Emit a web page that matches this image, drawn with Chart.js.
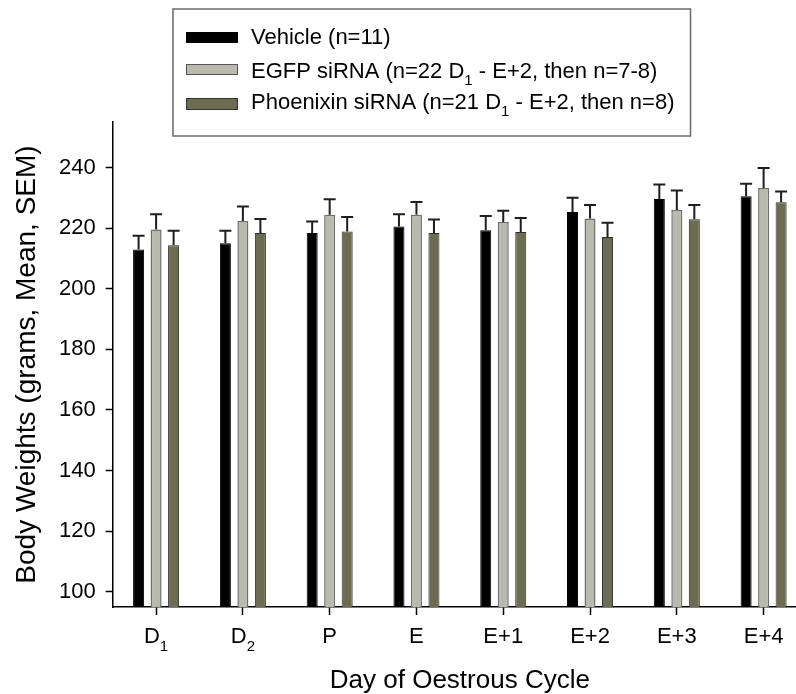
<!DOCTYPE html>
<html>
<head>
<meta charset="utf-8">
<script src="https://cdn.jsdelivr.net/npm/chart.js@4.4.1/dist/chart.umd.min.js"></script>
<style>
  html, body { margin: 0; padding: 0; background: #fff; overflow: hidden; }
  #wrap { width: 796px; height: 694px; overflow: hidden; position: relative; }
  canvas { display: block; }
</style>
</head>
<body>
<div id="wrap"><canvas id="c" width="812" height="694"></canvas></div>
<script>
// ---- data ----
const categories = ['D_1', 'D_2', 'P', 'E', 'E+1', 'E+2', 'E+3', 'E+4'];
const seriesLabels = [
  'Vehicle (n=11)',
  'EGFP siRNA (n=22 D_1 - E+2, then n=7-8)',
  'Phoenixin siRNA (n=21 D_1 - E+2, then n=8)'
];
const vehicleMean   = [212.9, 215.0, 218.4, 220.5, 219.3, 225.3, 229.6, 230.5];
const vehicleSem    = [4.6, 4.1, 3.8, 4.1, 4.7, 4.7, 4.8, 4.1];
const egfpMean      = [219.5, 222.3, 224.4, 224.4, 222.0, 223.2, 226.0, 233.2];
const egfpSem       = [5.1, 4.8, 5.1, 4.2, 3.7, 4.4, 6.4, 6.6];
const phoenixinMean = [214.3, 218.4, 218.9, 218.4, 218.7, 217.1, 222.9, 228.5];
const phoenixinSem  = [4.8, 4.6, 4.8, 4.4, 4.6, 4.7, 4.7, 3.6];
const yTicks = [100, 120, 140, 160, 180, 200, 220, 240];
const xTitle = 'Day of Oestrous Cycle';
const yTitle = 'Body Weights (grams, Mean, SEM)';

const FONT = '"Liberation Sans", Arial, Helvetica, sans-serif';
const fills   = ['#000000', '#b9b9ad', '#6c6c53'];
const borders = ['#000000', '#6e6e6e', '#2e2e28'];
const swatchBorders = ['#000000', '#555555', '#333333'];
const sems = [vehicleSem, egfpSem, phoenixinSem];

const plain = s => s.replace(/_1/g, '\u2081').replace(/_2/g, '\u2082');

// rich text with "_d" subscripts
function richSegments(str) {
  const parts = str.split(/_(\d)/);
  return parts.map((t, i) => ({ text: t, sub: i % 2 === 1 })).filter(p => p.text.length);
}
function richWidth(ctx, str, size, subSize) {
  let w = 0;
  for (const seg of richSegments(str)) {
    ctx.font = (seg.sub ? subSize : size) + 'px ' + FONT;
    w += ctx.measureText(seg.text).width;
  }
  return w;
}
function drawRich(ctx, str, x, y, size, subSize, subDrop, align) {
  const w = richWidth(ctx, str, size, subSize);
  let cx = align === 'center' ? x - w / 2 : x;
  ctx.textAlign = 'left';
  ctx.textBaseline = 'alphabetic';
  for (const seg of richSegments(str)) {
    ctx.font = (seg.sub ? subSize : size) + 'px ' + FONT;
    ctx.fillText(seg.text, cx, seg.sub ? y + subDrop : y);
    cx += ctx.measureText(seg.text).width;
  }
  return w;
}

// error bars (upper only) from the library's bar elements and y scale
const errorBarPlugin = {
  id: 'errorBars',
  afterDatasetsDraw(chart) {
    const ctx = chart.ctx;
    const ys = chart.scales.y;
    ctx.save();
    ctx.strokeStyle = '#1e1e1e';
    ctx.lineWidth = 2;
    chart.data.datasets.forEach((ds, di) => {
      const meta = chart.getDatasetMeta(di);
      meta.data.forEach((el, i) => {
        const top = ys.getPixelForValue(ds.data[i] + sems[di][i]);
        ctx.beginPath();
        ctx.moveTo(el.x, el.y);
        ctx.lineTo(el.x, top);
        ctx.moveTo(el.x - 6, top);
        ctx.lineTo(el.x + 6, top);
        ctx.stroke();
      });
    });
    ctx.restore();
  }
};

// x tick labels with subscripts, placed at the library's tick pixels
const xLabelPlugin = {
  id: 'xLabels',
  afterDraw(chart) {
    const ctx = chart.ctx;
    const xs = chart.scales.x;
    ctx.save();
    ctx.fillStyle = '#000';
    categories.forEach((c, i) => {
      drawRich(ctx, c, xs.getPixelForTick(i), chart.chartArea.bottom + 36, 22, 15, 8, 'center');
    });
    ctx.restore();
  }
};

// boxed legend floating over the chart
const legendBoxPlugin = {
  id: 'legendBox',
  afterDraw(chart) {
    const ctx = chart.ctx;
    const left = 173, top = 9, bottom = 136;
    const swX = 186, swW = 52, textX = 251;
    const swTop = [32, 64, 98], swH = [11, 11, 12], base = [44, 78, 109];
    ctx.save();
    let maxW = 0;
    seriesLabels.forEach(l => { maxW = Math.max(maxW, richWidth(ctx, l, 22, 15)); });
    const right = textX + maxW + 16;
    ctx.fillStyle = '#fff';
    ctx.fillRect(left, top, right - left, bottom - top);
    ctx.strokeStyle = '#6a6a6a';
    ctx.lineWidth = 1.5;
    ctx.strokeRect(left, top, right - left, bottom - top);
    seriesLabels.forEach((l, i) => {
      ctx.fillStyle = fills[i];
      ctx.fillRect(swX, swTop[i], swW, swH[i]);
      ctx.strokeStyle = swatchBorders[i];
      ctx.lineWidth = 1;
      ctx.strokeRect(swX + 0.5, swTop[i] + 0.5, swW - 1, swH[i] - 1);
      ctx.fillStyle = '#000';
      drawRich(ctx, l, textX, base[i], 22, 15, 7, 'left');
    });
    ctx.restore();
  }
};

const means = [vehicleMean, egfpMean, phoenixinMean];
const datasets = means.map((m, i) => ({
  label: plain(seriesLabels[i]),
  data: m,
  backgroundColor: fills[i],
  borderColor: borders[i],
  borderWidth: i === 1 ? 1.5 : 1,
  borderSkipped: 'start',
  categoryPercentage: 0.605,
  barPercentage: 0.63
}));

new Chart(document.getElementById('c'), {
  type: 'bar',
  data: { labels: categories.map(plain), datasets },
  plugins: [errorBarPlugin, xLabelPlugin, legendBoxPlugin],
  options: {
    responsive: false,
    animation: false,
    devicePixelRatio: 1,
    layout: { padding: { top: 122, right: 5, left: 0, bottom: 0 } },
    plugins: { legend: { display: false }, tooltip: { enabled: false } },
    scales: {
      x: {
        offset: true,
        grid: { display: true, drawOnChartArea: false, drawTicks: true, tickLength: 8, tickColor: '#000', tickWidth: 1.5, offset: false },
        border: { display: true, color: '#000', width: 1.5 },
        ticks: { display: false },
        title: { display: true, text: xTitle, color: '#000', font: { family: FONT, size: 26, lineHeight: 1 }, padding: { top: 0, bottom: 0 } },
        afterFit(s) { s.height = 87; }
      },
      y: {
        min: 95,
        max: 255,
        grid: { display: true, drawOnChartArea: false, drawTicks: true, tickLength: 7, tickColor: '#000', tickWidth: 1.5 },
        border: { display: true, color: '#000', width: 1.5 },
        ticks: { color: '#000', padding: 10, font: { family: FONT, size: 22 } },
        afterBuildTicks(s) { s.ticks = yTicks.map(v => ({ value: v })); },
        title: { display: true, text: yTitle, color: '#000', font: { family: FONT, size: 28, lineHeight: 1 }, padding: { top: 13, bottom: 0 } },
        afterFit(s) { s.width = 112.7; }
      }
    }
  }
});
</script>
</body>
</html>
